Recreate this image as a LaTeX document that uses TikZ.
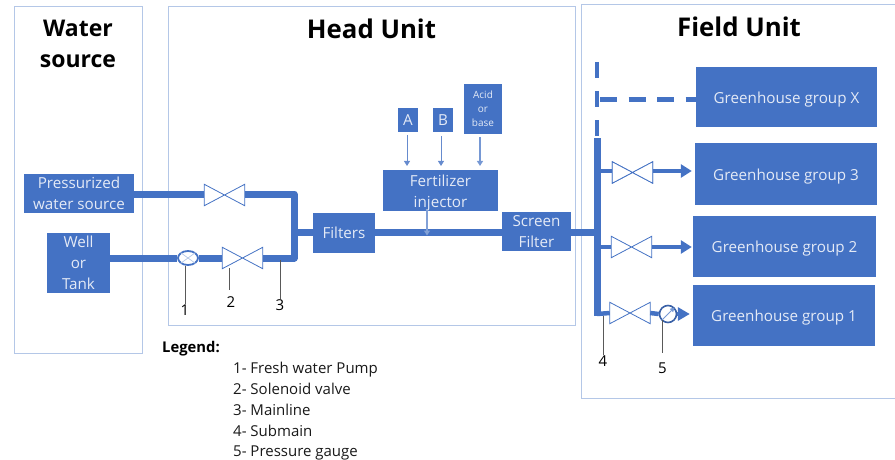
\documentclass[tikz,border=0pt]{standalone}
\usepackage{fontspec}
\setmainfont{Open Sans}
\usetikzlibrary{arrows.meta,shapes.geometric}
\definecolor{bx}{HTML}{4472C4}
\definecolor{fr}{HTML}{B4C7E7}
\definecolor{txt}{HTML}{E4EAF6}
\tikzset{
  x=1pt,y=-1pt,
  frame/.style={draw=fr,line width=1pt,fill=none},
  box/.style={draw=none,fill=bx,text=txt,inner sep=0pt,align=center,font=\fontsize{15.2}{21}\selectfont},
  title/.style={font=\fontsize{25.8}{31}\selectfont\bfseries,align=center,text=black,inner sep=0pt},
  pipe/.style={draw=bx,line width=7pt},
  sub/.style={draw=bx,line width=4.5pt},
  thin arrow/.style={draw=bx!70!fr,line width=1pt,-{Triangle[length=5pt,width=6pt]}},
  leader/.style={draw=black!65,line width=0.8pt},
  num/.style={font=\fontsize{15}{16}\selectfont,inner sep=0pt,text=black},
  legend/.style={font=\fontsize{15}{16}\selectfont,inner sep=0pt,anchor=base west,text=black!90},
  vnode/.style={rectangle,inner sep=0pt,minimum width=40pt,minimum height=21pt},
  vline/.style={draw=bx,fill=white,line width=0.8pt,line join=miter},
}
\newcommand{\valvesym}[3]{%
  \node[vnode] (#1) at (#2,#3) {};
  \draw[vline] (#1.north west) -- (#1.south east) -- (#1.north east) -- (#1.south west) -- cycle;}
\newcommand{\lowstrut}{\rule{0pt}{16pt}}
\begin{document}
\begin{tikzpicture}
\useasboundingbox (0,0) rectangle (895,460);
% frames
\node[frame,minimum width=128pt,minimum height=346pt,inner sep=0pt] (wsf) at (78,180) {};
\node[frame,minimum width=407pt,minimum height=318pt,inner sep=0pt] (huf) at (371.5,166) {};
\draw[fr,line width=1pt] (895,5) -- (581,5) -- (581,398) -- (895,398);
% titles
\node[title,font=\fontsize{23}{31}\selectfont\bfseries] (t1) at (78,44) {Water\\source};
\node[title] (t2) at (371.5,29) {Head Unit};
\node[title] (t3) at (739,27) {Field Unit};
% boxes
\node[box,minimum width=110pt,minimum height=39pt] (press) at (79,193.5) {Pressurized\\water source};
\node[box,minimum width=63pt,minimum height=60pt] (well) at (78.5,263) {Well\\or\\Tank};
\node[box,minimum width=62pt,minimum height=40pt] (filters) at (344,232.5) {Filters};
\node[box,minimum width=69pt,minimum height=39pt] (screen) at (536.5,231.5) {Screen\\Filter};
\node[box,minimum width=115pt,minimum height=39pt] (inj) at (440.5,190.5) {\lowstrut Fertilizer\\injector};
\node[box,minimum width=20pt,minimum height=24pt] (A) at (408,120) {A};
\node[box,minimum width=20pt,minimum height=24pt] (B) at (443,120) {B};
\node[box,minimum width=38pt,minimum height=50pt,font=\fontsize{10}{14}\selectfont] (acid) at (483,109) {Acid\\or\\base};
\node[box,minimum width=181pt,minimum height=60pt] (gx) at (786.5,97) {\lowstrut Greenhouse group X};
\node[box,minimum width=182pt,minimum height=62pt] (g3) at (786,174) {\lowstrut Greenhouse group 3};
\node[box,minimum width=183pt,minimum height=61pt] (g2) at (784.5,246.5) {\lowstrut Greenhouse group 2};
\node[box,minimum width=182pt,minimum height=61pt] (g1) at (784,315.5) {\lowstrut Greenhouse group 1};
% coordinates
\coordinate (c1) at (294,194);
\coordinate (c2) at (294,258);
\coordinate (c3) at (294,232.5);
\coordinate (m) at (427,232.5);
\coordinate (s0) at (597,138);
\coordinate (s1) at (597,316);
\coordinate (s2) at (597,232);
\coordinate (b3) at (597,171);
\coordinate (b2) at (597,247);
\coordinate (b1) at (597,314);
\coordinate (dtop) at (597,62);
\coordinate (dbot) at (597,137);
\coordinate (dh) at (597,100);
\coordinate (dh0) at (600,100);
\coordinate (ia) at (407,135);
\coordinate (ib) at (441,136);
\coordinate (ic) at (480,137);
\coordinate (id) at (427,210);
% main pipes
\node[draw=bx,line width=1.8pt,fill=white,ellipse,minimum width=20pt,minimum height=14pt,inner sep=0pt] (pump) at (188,258) {};
\valvesym{v1}{224.5}{195}
\valvesym{v2}{242.5}{258}
\valvesym{v3}{632.5}{172.5}
\valvesym{v4}{631.5}{247}
\valvesym{v5}{630}{313}
\draw[pipe] (press.east |- c1) -- (c1 -| v1.west);
\draw[pipe,line join=round] (v1.east |- c1) -- (c1) -- (c2) -- (v2.east);
\draw[pipe] (well.east |- pump) -- (pump.west);
\draw[pipe] (pump.east) -- (v2.west);
\draw[pipe] (c3) -- (filters.west);
\draw[pipe] (filters.east) -- (screen.west |- filters.east);
\draw[pipe] (screen.east |- s2) -- (s2);
\draw[draw=bx,line width=7pt] (s0) -- (s1);
\draw[bx,line width=4.5pt,dash pattern=on 16pt off 13pt] (dtop) -- (dbot);
\draw[bx,line width=5pt,dash pattern=on 17pt off 11.5pt] (dh0) -- (gx.west |- dh);
% cross of pump
\draw[fr,line width=0.7pt] (pump.north west) -- (pump.south east) (pump.north east) -- (pump.south west);
% branches
\draw[sub] (b3) -- (v3.west |- b3);
\draw[sub,-{Triangle[length=11pt,width=13pt]}] (v3.east |- b3) -- ([xshift=-3pt]g3.west |- b3);
\draw[sub] (b2) -- (v4.west);
\draw[sub,-{Triangle[length=11pt,width=13pt]}] (v4.east) -- ([xshift=-1pt]g2.west |- b2);
\draw[sub] (b1) -- (v5.west);
\node[draw=bx!85!black,line width=1.6pt,fill=white,circle,minimum size=17pt,inner sep=0pt] (gauge) at (668,314) {};
\draw[sub] (v5.east) -- (gauge.west);
\draw[sub,-{Triangle[length=12pt,width=13pt]}] (gauge.east) -- ([xshift=-3pt]g1.west |- gauge);
\draw[bx!55!fr,line width=1pt,-{Triangle[length=4.5pt,width=4.5pt]}] (gauge.south west) -- (gauge.north east);
\draw[vline] (v3.north west) -- (v3.south east) -- (v3.north east) -- (v3.south west) -- cycle;
% thin arrows
\draw[thin arrow,shorten >=4pt] (ia) -- (ia |- inj.north);
\draw[thin arrow,shorten >=4pt] (ib) -- (ib |- inj.north);
\draw[thin arrow,line width=1.4pt,draw=bx!55!fr,shorten >=4pt] (ic) -- (ic |- inj.north);
\draw[thin arrow,line width=1.4pt,draw=bx!45!fr] (id) -- ([yshift=-3pt]m);
% leaders and numbers
\node[num] (n1) at (185,310) {1};
\node[num] (n2) at (231,302) {2};
\node[num] (n3) at (280,305) {3};
\node[num] (n4) at (603,361) {4};
\node[num] (n5) at (662.5,368) {5};
\coordinate (l2) at (229,268);
\coordinate (l2e) at (229,290);
\coordinate (l3) at (280,260);
\coordinate (l4) at (603,316);
\coordinate (l5) at (662,320);
\coordinate (l5e) at (662,353);
\draw[leader] (n1.north |- pump.south) -- (n1.north);
\draw[leader] (l2) -- (l2e);
\draw[leader] (l3) -- (n3.north);
\draw[leader] (l4) -- (n4.north);
\draw[leader] (l5) -- (l5e);
% legend
\node[inner sep=0pt,anchor=base west,font=\fontsize{14.8}{16}\selectfont\bfseries] (lg) at (162,352) {Legend:};
\node[legend] (lg1) at (233,373) {1- Fresh water Pump};
\node[legend] (lg2) at (233,394) {2- Solenoid valve};
\node[legend] (lg3) at (233,415) {3- Mainline};
\node[legend] (lg4) at (233,436) {4- Submain};
\node[legend] (lg5) at (233,456) {5- Pressure gauge};
\end{tikzpicture}
\end{document}
